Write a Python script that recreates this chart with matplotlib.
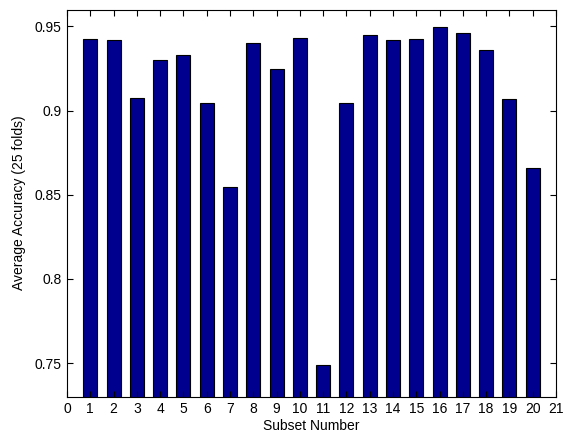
import matplotlib
matplotlib.use('Agg')
import matplotlib.pyplot as plt

subsets = list(range(1, 21))
accuracy = [0.9423, 0.9417, 0.9072, 0.9301, 0.9328, 0.9046, 0.8543, 0.9403,
            0.9248, 0.9429, 0.7490, 0.9046, 0.9450, 0.9417, 0.9423, 0.9496,
            0.9462, 0.9361, 0.9066, 0.8656]

plt.rcParams['font.family'] = ['Liberation Sans', 'DejaVu Sans']

fig = plt.figure(figsize=(5.65, 4.34), dpi=100)
ax = fig.add_axes([0.1186, 0.086, 0.8655, 0.892])

ax.bar(subsets, accuracy, width=0.6, color='#00008F', edgecolor='black', linewidth=0.8)

ax.set_xlim(0, 21)
ax.set_ylim(0.73, 0.96)
ax.set_xticks(range(0, 22))
ax.set_yticks([0.75, 0.8, 0.85, 0.9, 0.95])
ax.set_yticklabels(['0.75', '0.8', '0.85', '0.9', '0.95'])
ax.tick_params(direction='in', top=True, right=True, labelsize=10, length=4, pad=4)

ax.set_xlabel('Subset Number', fontsize=10, labelpad=2)
ax.set_ylabel('Average Accuracy (25 folds)', fontsize=10, labelpad=6)

for s in ax.spines.values():
    s.set_linewidth(0.8)

fig.savefig('out.png', dpi=100)
